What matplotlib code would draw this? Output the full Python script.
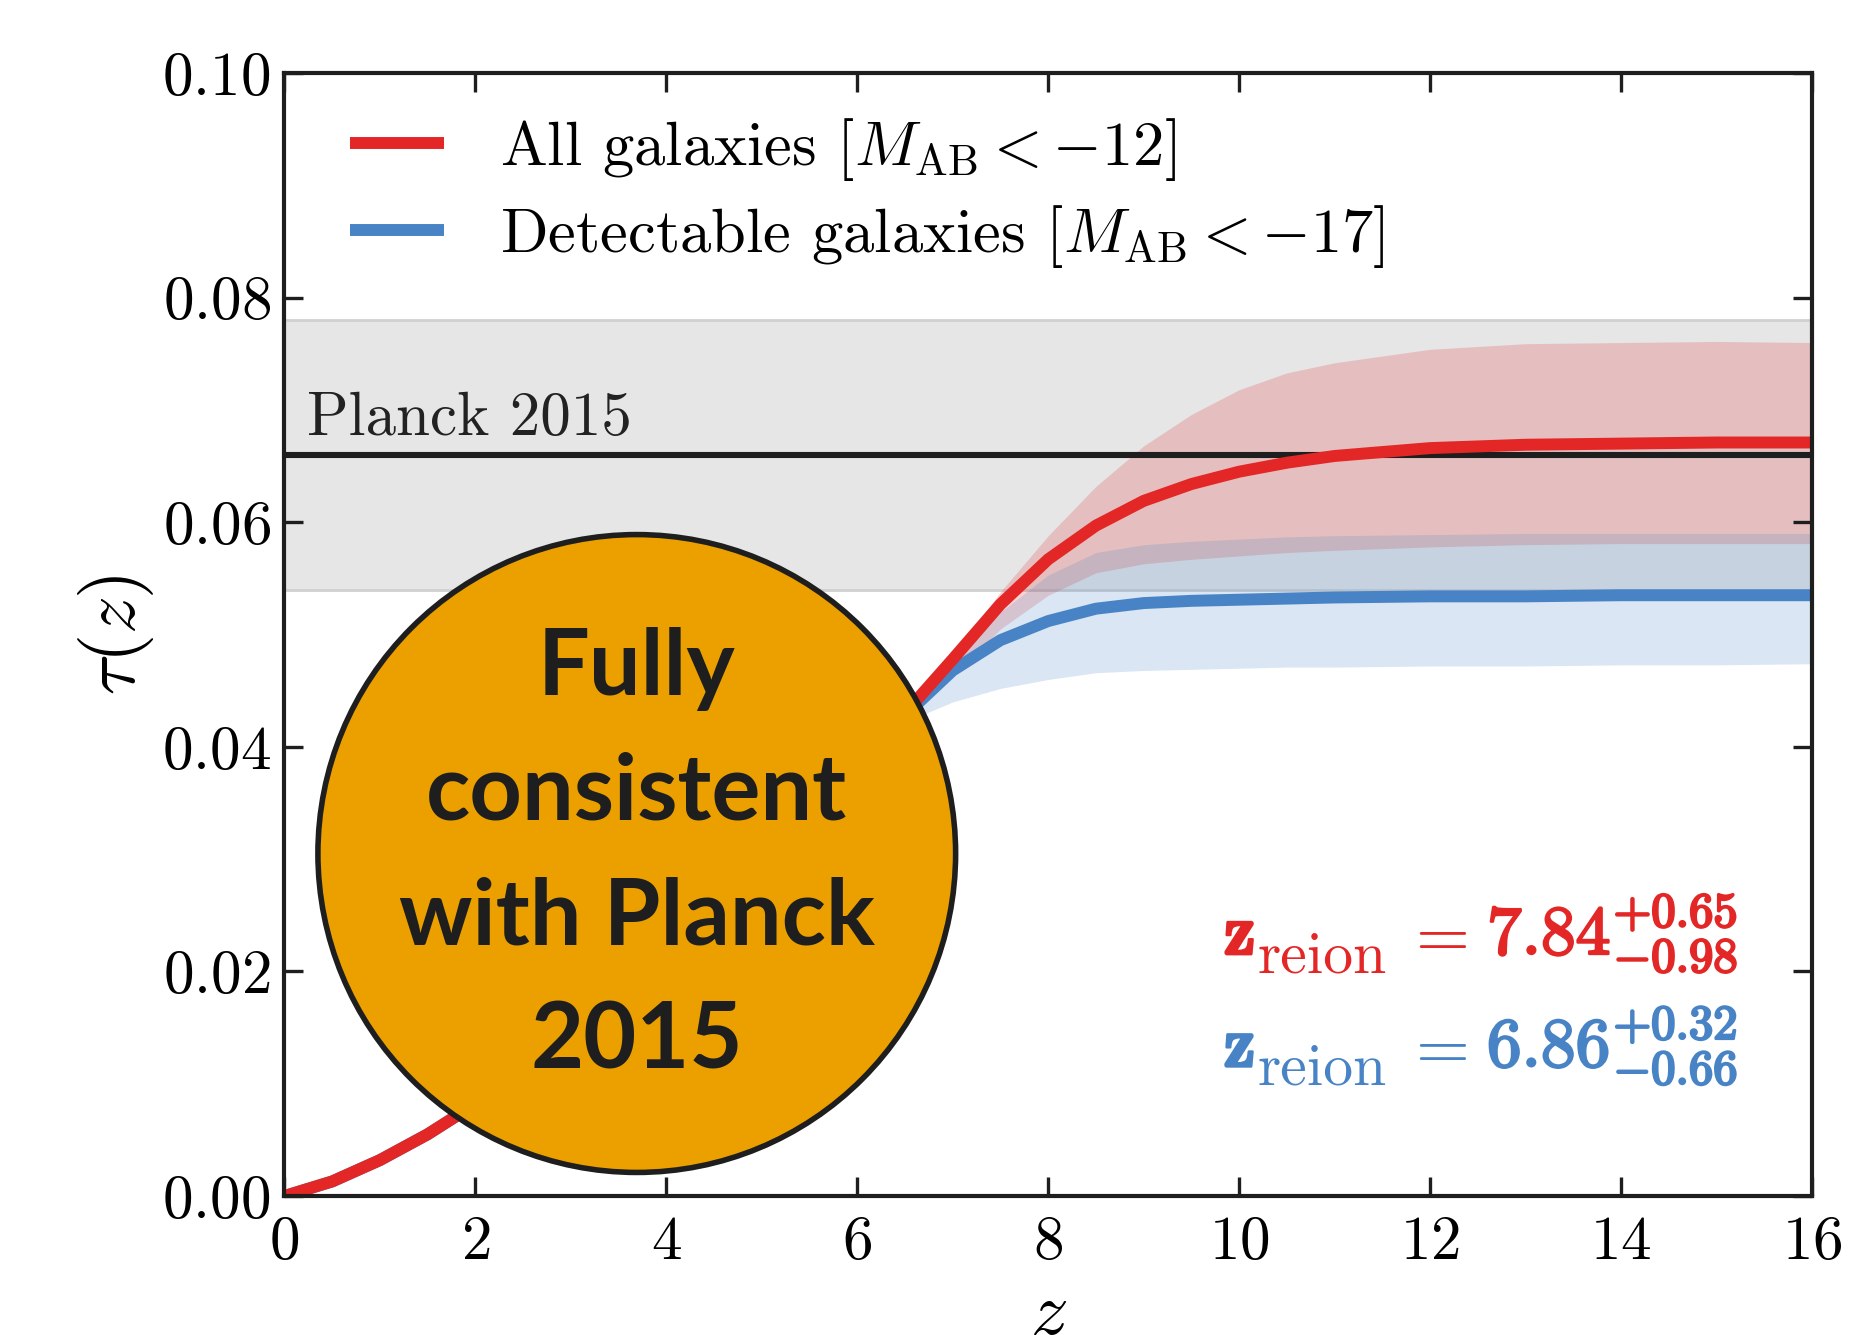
import matplotlib
matplotlib.use("Agg")
import matplotlib.pyplot as plt
import matplotlib.patheffects as pe
from matplotlib.patches import Ellipse

plt.rcParams["font.family"] = "serif"
plt.rcParams["font.serif"] = ["cmr10"]
plt.rcParams["mathtext.fontset"] = "cm"
plt.rcParams["axes.formatter.use_mathtext"] = True

RED = "#e32726"
BLUE = "#4884c5"

# tau(z), all galaxies (M_AB < -12)
z = [0, 0.5, 1, 1.5, 2, 3, 4, 5, 6, 6.5, 7, 7.5, 8, 8.5, 9, 9.5, 10, 10.5, 11, 12, 13, 14, 15, 16]
tau_all = [0.0, 0.0013, 0.0032, 0.0055, 0.0082, 0.0140, 0.0205, 0.0275, 0.0365, 0.0430, 0.0478,
           0.0527, 0.0567, 0.0597, 0.0619, 0.0634, 0.0645, 0.0653, 0.0659, 0.0666, 0.0669, 0.0670,
           0.0671, 0.0671]
tau_all_lo = [0.0, 0.0013, 0.0032, 0.0055, 0.0082, 0.0140, 0.0205, 0.0275, 0.0365, 0.0428, 0.0462,
              0.0505, 0.0535, 0.0555, 0.0563, 0.0567, 0.0570, 0.0573, 0.0575, 0.0578, 0.0580, 0.0581,
              0.0581, 0.0581]
tau_all_hi = [0.0, 0.0013, 0.0032, 0.0055, 0.0082, 0.0140, 0.0205, 0.0275, 0.0365, 0.0432, 0.0482,
              0.0538, 0.0588, 0.0632, 0.0668, 0.0696, 0.0718, 0.0733, 0.0742, 0.0754, 0.0759, 0.0760,
              0.0761, 0.0760]

# detectable galaxies (M_AB < -17)
tau_det = [0.0, 0.0013, 0.0032, 0.0055, 0.0082, 0.0140, 0.0205, 0.0275, 0.0365, 0.0428, 0.0468,
           0.0495, 0.0512, 0.0523, 0.0528, 0.0530, 0.0531, 0.0532, 0.0533, 0.0534, 0.0534, 0.0535,
           0.0535, 0.0535]
tau_det_lo = [0.0, 0.0013, 0.0032, 0.0055, 0.0082, 0.0140, 0.0205, 0.0275, 0.0365, 0.0422, 0.0440,
              0.0452, 0.0460, 0.0466, 0.0468, 0.0469, 0.0470, 0.0471, 0.0471, 0.0472, 0.0472, 0.0473,
              0.0473, 0.0474]
tau_det_hi = [0.0, 0.0013, 0.0032, 0.0055, 0.0082, 0.0140, 0.0205, 0.0275, 0.0365, 0.0432, 0.0475,
              0.0520, 0.0553, 0.0573, 0.0580, 0.0583, 0.0585, 0.0587, 0.0588, 0.0589, 0.0590, 0.0590,
              0.0590, 0.0590]

planck_tau = 0.066
planck_lo, planck_hi = 0.054, 0.078

# (y, colour, z_reion, +err, -err)
reion = [(0.0215, RED, "7.84", "0.65", "0.98"),
         (0.0115, BLUE, "6.86", "0.32", "0.66")]

fig = plt.figure(figsize=(9.255, 6.675), dpi=200)
ax = fig.add_axes([0.1537, 0.1041, 0.8252, 0.8412])

# Planck 2015 band + central value
ax.axhspan(planck_lo, planck_hi, facecolor="#e6e6e6", edgecolor="#d0d0d0", lw=1.0, zorder=0)
ax.axhline(planck_tau, color="#1e1e1e", lw=2.2, zorder=3)
ax.text(0.24, 0.0678, "Planck 2015", fontsize=22, color="#222222", zorder=3)

ax.fill_between(z, tau_all_lo, tau_all_hi, color=RED, alpha=0.2, lw=0, zorder=1)
ax.fill_between(z, tau_det_lo, tau_det_hi, color=BLUE, alpha=0.2, lw=0, zorder=1)
ax.plot(z, tau_det, color=BLUE, lw=4.3, solid_capstyle="butt", zorder=4,
        label=r"Detectable galaxies $[M_{\rm AB} < -17]$")
ax.plot(z, tau_all, color=RED, lw=4.3, solid_capstyle="butt", zorder=5,
        label=r"All galaxies $[M_{\rm AB} < -12]$")

# big orange badge
ax.add_patch(Ellipse((3.69, 0.0305), 6.68, 0.0568, facecolor="#eba000",
                     edgecolor="#1e1e1e", lw=2.0, zorder=6))
ax.text(3.69, 0.0303, "Fully\nconsistent\nwith Planck\n2015", ha="center", va="center",
        multialignment="center", fontsize=33, fontweight="bold", family="Lato",
        color="#1e1e1e", linespacing=1.6, zorder=7)

# z_reion annotations, built from pieces so the subscript keeps full size
for y0, col, val, up, dn in reion:
    bold = [pe.withStroke(linewidth=0.9, foreground=col)]
    num = ax.text(15.22, y0, r"$\mathbf{%s}^{+\mathbf{%s}}_{-\mathbf{%s}}$" % (val, up, dn),
                  ha="right", va="baseline", fontsize=25, color=col, zorder=5, path_effects=bold)
    eq = ax.annotate(r"$=$", xy=(0, y0), xycoords=(num, "data"), xytext=(-7, 0),
                     textcoords="offset points", ha="right", va="baseline",
                     fontsize=25, color=col, zorder=5)
    sub = ax.annotate("reion", xy=(0, y0), xycoords=(eq, "data"), xytext=(-6, -6.5),
                      textcoords="offset points", ha="right", va="baseline",
                      fontsize=21.5, color=col, zorder=5)
    ax.annotate(r"$\mathbf{z}$", xy=(0, y0), xycoords=(sub, "data"), xytext=(-1, 0),
                textcoords="offset points", ha="right", va="baseline",
                fontsize=26, color=col, zorder=5, path_effects=bold)

handles, labels = ax.get_legend_handles_labels()
ax.legend(handles[::-1], labels[::-1], loc="upper left", bbox_to_anchor=(0.043, 0.962),
          frameon=False, fontsize=22.5, handlelength=1.5, handletextpad=0.9,
          labelspacing=0.33, borderpad=0, borderaxespad=0)

ax.set_xlim(0, 16)
ax.set_ylim(0, 0.10)
ax.set_xticks(range(0, 17, 2))
ax.set_yticks([0.0, 0.02, 0.04, 0.06, 0.08, 0.10])
ax.tick_params(direction="in", top=True, right=True, length=7, width=1.2,
               labelsize=22, color="#1e1e1e")
ax.tick_params(axis="x", pad=7)
ax.tick_params(axis="y", pad=5)
for sp in ax.spines.values():
    sp.set_linewidth(1.5)
    sp.set_color("#1e1e1e")
    sp.set_zorder(8)

ax.set_xlabel(r"$z$", fontsize=27, labelpad=4)
ax.set_ylabel(r"$\tau(z)$", fontsize=27, labelpad=2)

fig.savefig("out.png", dpi=200)
